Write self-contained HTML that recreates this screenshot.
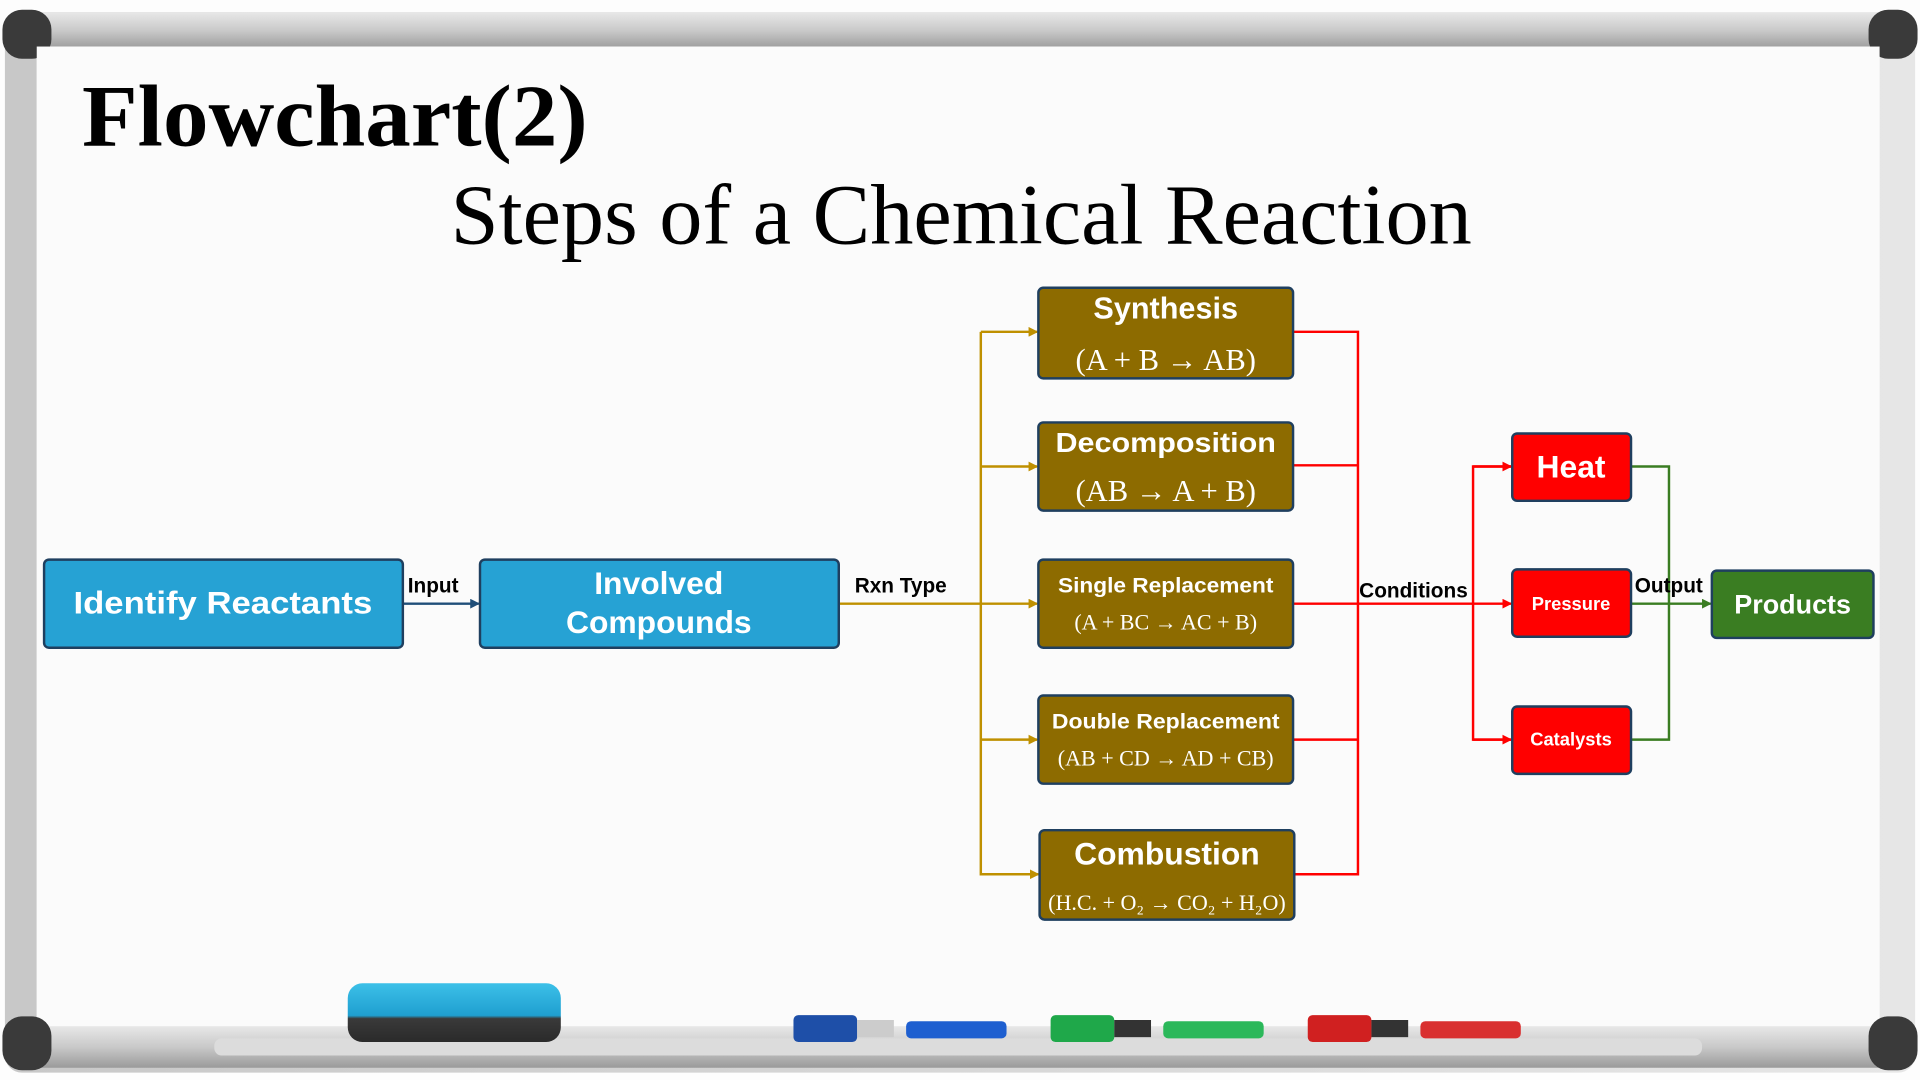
<!DOCTYPE html>
<html><head><meta charset="utf-8"><style>
html,body{margin:0;padding:0;background:#fff;width:1920px;height:1080px;overflow:hidden}
svg{display:block}
.b{font-family:"Liberation Sans",sans-serif;font-weight:bold;fill:#fff;text-anchor:middle}
.s{font-family:"Liberation Serif",serif;fill:#fff;text-anchor:middle}
.l{font-family:"Liberation Sans",sans-serif;font-weight:bold;fill:#000;font-size:17px}
</style></head><body>
<svg width="1920" height="1080" viewBox="0 0 1568 882" xmlns="http://www.w3.org/2000/svg">
<defs>
<linearGradient id="fr" x1="0" y1="0" x2="0" y2="1"><stop offset="0" stop-color="#e8e8e8"/><stop offset="0.5" stop-color="#c9c9c9"/><stop offset="1" stop-color="#9a9a9a"/></linearGradient>
<linearGradient id="fs" x1="0" y1="0" x2="1" y2="0"><stop offset="0" stop-color="#c8c8c8"/><stop offset="1" stop-color="#e6e6e6"/></linearGradient>
<linearGradient id="er" x1="0" y1="0" x2="0" y2="1"><stop offset="0" stop-color="#3cc0e8"/><stop offset="0.55" stop-color="#1f9fd0"/><stop offset="0.6" stop-color="#3a3a3a"/><stop offset="1" stop-color="#2a2a2a"/></linearGradient>
<marker id="ag" markerWidth="8" markerHeight="8" refX="7" refY="4" orient="auto" markerUnits="userSpaceOnUse"><path d="M0,0 L8,4 L0,8z" fill="#bf9000"/></marker>
<marker id="ar" markerWidth="8" markerHeight="8" refX="7" refY="4" orient="auto" markerUnits="userSpaceOnUse"><path d="M0,0 L8,4 L0,8z" fill="#ff0000"/></marker>
<marker id="agr" markerWidth="8" markerHeight="8" refX="7" refY="4" orient="auto" markerUnits="userSpaceOnUse"><path d="M0,0 L8,4 L0,8z" fill="#3a7d22"/></marker>
<marker id="ab" markerWidth="8" markerHeight="8" refX="7" refY="4" orient="auto" markerUnits="userSpaceOnUse"><path d="M0,0 L8,4 L0,8z" fill="#1f4e79"/></marker>
</defs>
<!-- frame -->
<rect x="0" y="0" width="1568" height="882" fill="#fdfdfd"/>
<rect x="4" y="10" width="1560" height="866" rx="14" fill="url(#fs)"/>
<rect x="4" y="10" width="1560" height="30" rx="12" fill="url(#fr)"/>
<rect x="30" y="38" width="1505" height="812" fill="#fbfbfb"/>
<rect x="2" y="8" width="40" height="40" rx="16" fill="#3a3a3a"/>
<rect x="1526" y="8" width="40" height="40" rx="16" fill="#3a3a3a"/>
<rect x="4" y="838" width="1560" height="34" rx="10" fill="url(#fr)"/>
<rect x="30" y="38" width="1505" height="800" fill="#fbfbfb"/>
<rect x="2" y="830" width="40" height="44" rx="16" fill="#3a3a3a"/>
<rect x="1526" y="830" width="40" height="44" rx="16" fill="#3a3a3a"/>
<rect x="175" y="848" width="1215" height="14" rx="6" fill="#dcdcdc"/>
<rect x="284" y="803" width="174" height="48" rx="12" fill="url(#er)"/>
<rect x="648" y="829" width="52" height="22" rx="4" fill="#1e4fa8"/><rect x="700" y="833" width="30" height="14" fill="#ccc"/><rect x="740" y="834" width="82" height="14" rx="4" fill="#1e5fd0"/>
<rect x="858" y="829" width="52" height="22" rx="4" fill="#1fa84a"/><rect x="910" y="833" width="30" height="14" fill="#333"/><rect x="950" y="834" width="82" height="14" rx="4" fill="#2bb85a"/>
<rect x="1068" y="829" width="52" height="22" rx="4" fill="#d02020"/><rect x="1120" y="833" width="30" height="14" fill="#333"/><rect x="1160" y="834" width="82" height="14" rx="4" fill="#d93030"/>
<!-- titles -->
<text x="67" y="119" font-family="Liberation Serif,serif" font-weight="bold" font-size="72" textLength="413" lengthAdjust="spacingAndGlyphs">Flowchart(2)</text>
<text x="368" y="199" font-family="Liberation Serif,serif" font-size="70" textLength="834" lengthAdjust="spacingAndGlyphs">Steps of a Chemical Reaction</text>
<!-- connectors -->
<g fill="none" stroke-width="2">
<line x1="329" y1="493" x2="391" y2="493" stroke="#1f4e79" marker-end="url(#ab)"/>
<g stroke="#bf9000">
<line x1="685" y1="493" x2="847" y2="493" marker-end="url(#ag)"/>
<line x1="801" y1="271" x2="801" y2="715"/>
<line x1="801" y1="271" x2="847" y2="271" marker-end="url(#ag)"/>
<line x1="801" y1="381" x2="847" y2="381" marker-end="url(#ag)"/>
<line x1="801" y1="604" x2="847" y2="604" marker-end="url(#ag)"/>
<line x1="801" y1="714" x2="848" y2="714" marker-end="url(#ag)"/>
</g>
<g stroke="#ff0000">
<polyline points="1056,271 1109,271 1109,714 1057,714"/>
<line x1="1056" y1="380" x2="1109" y2="380"/>
<line x1="1056" y1="604" x2="1109" y2="604"/>
<line x1="1056" y1="493" x2="1234" y2="493" marker-end="url(#ar)"/>
<polyline points="1234,381 1203,381 1203,604 1234,604"/>
<line x1="1203" y1="381" x2="1234" y2="381" marker-end="url(#ar)"/>
<line x1="1203" y1="604" x2="1234" y2="604" marker-end="url(#ar)"/>
</g>
<g stroke="#3a7d22">
<polyline points="1332,381 1363,381 1363,604 1332,604"/>
<line x1="1332" y1="493" x2="1397" y2="493" marker-end="url(#agr)"/>
</g>
</g>
<text class="l" x="333" y="484">Input</text>
<text class="l" x="698" y="484" font-size="19">Rxn Type</text>
<text class="l" x="1110" y="488" font-size="16">Conditions</text>
<text class="l" x="1335" y="484" font-size="16">Output</text>
<!-- boxes -->
<g stroke="#1f3f5f" stroke-width="2">
<rect x="36" y="457" width="293" height="72" rx="4" fill="#26a2d4"/>
<rect x="392" y="457" width="293" height="72" rx="4" fill="#26a2d4"/>
<rect x="848" y="235" width="208" height="74" rx="4" fill="#8d6b00"/>
<rect x="848" y="345" width="208" height="72" rx="4" fill="#8d6b00"/>
<rect x="848" y="457" width="208" height="72" rx="4" fill="#8d6b00"/>
<rect x="848" y="568" width="208" height="72" rx="4" fill="#8d6b00"/>
<rect x="849" y="678" width="208" height="73" rx="4" fill="#8d6b00"/>
<rect x="1235" y="354" width="97" height="55" rx="4" fill="#ff0000"/>
<rect x="1235" y="465" width="97" height="55" rx="4" fill="#ff0000"/>
<rect x="1235" y="577" width="97" height="55" rx="4" fill="#ff0000"/>
<rect x="1398" y="466" width="132" height="55" rx="4" fill="#3a7d22"/>
</g>
<text class="b" x="182" y="501" font-size="26" textLength="244" lengthAdjust="spacingAndGlyphs">Identify Reactants</text>
<text class="b" x="538" y="485" font-size="26">Involved</text>
<text class="b" x="538" y="517" font-size="26">Compounds</text>
<text class="b" x="952" y="260" font-size="25">Synthesis</text>
<text class="s" x="952" y="302" font-size="25">(A + B → AB)</text>
<text class="b" x="952" y="369" font-size="23" textLength="180" lengthAdjust="spacingAndGlyphs">Decomposition</text>
<text class="s" x="952" y="409" font-size="25">(AB → A + B)</text>
<text class="b" x="952" y="484" font-size="17" textLength="176" lengthAdjust="spacingAndGlyphs">Single Replacement</text>
<text class="s" x="952" y="514" font-size="18">(A + BC → AC + B)</text>
<text class="b" x="952" y="595" font-size="17" textLength="186" lengthAdjust="spacingAndGlyphs">Double Replacement</text>
<text class="s" x="952" y="625" font-size="18">(AB + CD → AD + CB)</text>
<text class="b" x="953" y="706" font-size="26">Combustion</text>
<text class="s" x="953" y="743" font-size="18">(H.C. + O₂ → CO₂ + H₂O)</text>
<text class="b" x="1283" y="390" font-size="26">Heat</text>
<text class="b" x="1283" y="498" font-size="15">Pressure</text>
<text class="b" x="1283" y="609" font-size="15">Catalysts</text>
<text class="b" x="1464" y="501" font-size="22">Products</text>
</svg>
</body></html>
